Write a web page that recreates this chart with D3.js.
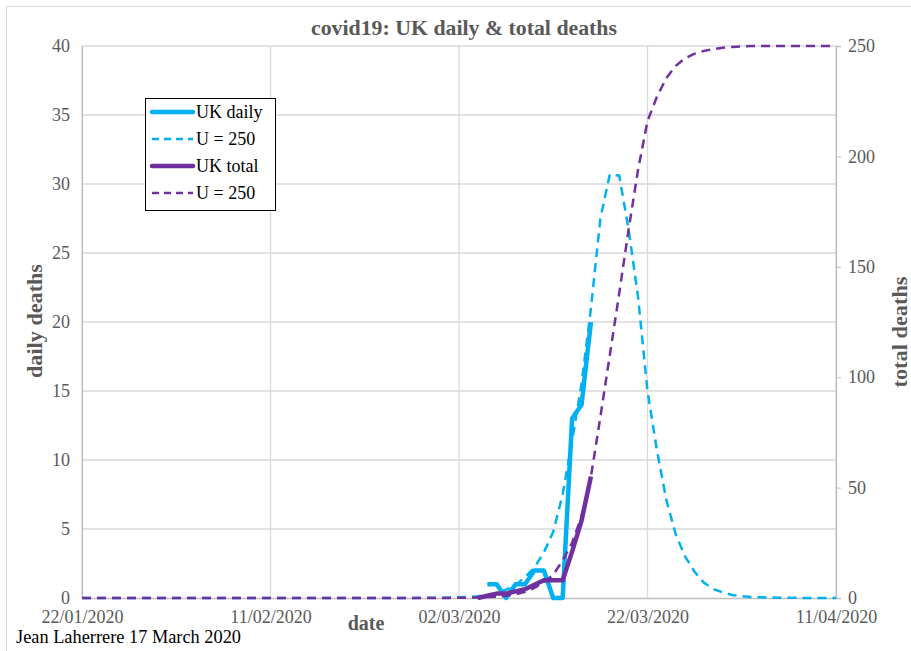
<!DOCTYPE html>
<html>
<head>
<meta charset="utf-8">
<script src="https://cdn.jsdelivr.net/npm/d3@7"></script>
<style>
  body { margin: 0; background: #fff; }
  text { font-family: "Liberation Serif", "Times New Roman", serif; }
</style>
</head>
<body>
<div id="chart"></div>
<script>
const width = 911
const height = 651
const margin = { top: 46, right: 75, bottom: 53, left: 82 }

// x tick labels (every 20 days)
const tickDates = ["22/01/2020", "11/02/2020", "02/03/2020", "22/03/2020", "11/04/2020"]
const leftTicks = [0, 5, 10, 15, 20, 25, 30, 35, 40]
const rightTicks = [0, 50, 100, 150, 200, 250]

// observed UK daily deaths, from 05/03/2020
const dailyStart = "05/03/2020"
const ukDaily = [1, 1, 0, 1, 1, 2, 2, 0, 0, 13, 14, 20]

// observed UK total deaths, from 04/03/2020
const totalStart = "04/03/2020"
const ukTotal = [0, 1, 2, 2, 3, 4, 6, 8, 8, 8, 21, 35, 55]

// model U = 250, one value per day from 22/01/2020
const modelStart = "22/01/2020"
const dailyModel = [
  0, 0, 0, 0, 0, 0, 0, 0, 0, 0,
  0, 0, 0, 0, 0, 0, 0, 0, 0, 0,
  0, 0, 0, 0, 0, 0, 0, 0, 0, 0,
  0, 0, 0, 0, 0, 0, 0.01, 0.01, 0.02, 0.03,
  0.05, 0.08, 0.13, 0.21, 0.35, 0.6, 0.95, 1.5, 2.2, 3.3,
  4.8, 7.5, 11.4, 15.5, 21, 27.5, 30.7, 30.6, 26.7, 21.8,
  15, 10.7, 7.1, 4.6, 3.0, 1.9, 1.1, 0.65, 0.4, 0.22,
  0.13, 0.08, 0.05, 0.03, 0.02, 0.01, 0.01, 0, 0, 0, 0
]
const totalModel = [
  0, 0, 0, 0, 0, 0, 0, 0, 0, 0,
  0, 0, 0, 0, 0, 0, 0, 0, 0, 0,
  0, 0, 0, 0, 0, 0, 0, 0, 0, 0,
  0, 0, 0, 0, 0, 0, 0, 0, 0.03, 0.05,
  0.1, 0.15, 0.25, 0.4, 0.6, 1.0, 1.6, 2.8, 4.6, 7.2,
  10.5, 17, 25, 37, 55, 82, 110, 138, 167, 194,
  216, 227, 235.5, 241, 244.5, 246.5, 247.8, 248.6, 249.2, 249.6,
  249.8, 250, 250, 250, 250, 250, 250, 250, 250, 250, 250
]

const parse = d3.timeParse("%d/%m/%Y")
const fmt = d3.timeFormat("%d/%m/%Y")
const series = (start, values) => values.map((v, i) => ({ date: d3.timeDay.offset(parse(start), i), value: v }))

const blue = "#00b0f0"
const purple = "#7030a0"
const grey = "#595959"

const svg = d3.select("div#chart").append("svg").attr("width", width).attr("height", height)

// outer chart frame
svg.append("rect").attr("x", 6.5).attr("y", 6.5).attr("width", 1000).attr("height", 1000)
    .attr("fill", "none").attr("stroke", "#d9d9d9")

const x = d3.scaleTime()
    .domain([parse(tickDates[0]), parse(tickDates[tickDates.length - 1])])
    .range([margin.left, width - margin.right])
const y = d3.scaleLinear().domain([0, 40]).range([height - margin.bottom, margin.top])
const y2 = d3.scaleLinear().domain([0, 250]).range([height - margin.bottom, margin.top])

// grid
const grid = svg.append("g").attr("class", "grid")
grid.selectAll("line.h").data(leftTicks.slice(1)).join("line").attr("class", "h")
    .attr("x1", margin.left).attr("x2", width - margin.right)
    .attr("y1", d => y(d)).attr("y2", d => y(d))
    .attr("stroke", "#d9d9d9").attr("stroke-width", 1.3)
grid.selectAll("line.v").data(tickDates).join("line").attr("class", "v")
    .attr("x1", d => x(parse(d))).attr("x2", d => x(parse(d)))
    .attr("y1", margin.top).attr("y2", height - margin.bottom)
    .attr("stroke", "#d9d9d9").attr("stroke-width", 1.3)

// axes
const xAxis = d3.axisBottom(x).tickValues(tickDates.map(parse)).tickFormat(fmt).tickSize(0).tickPadding(9)
const yAxis = d3.axisLeft(y).tickValues(leftTicks).tickSize(0).tickPadding(12)
const yAxis2 = d3.axisRight(y2).tickValues(rightTicks).tickSize(5).tickPadding(7)

const xAxisGroup = svg.append("g").attr("transform", `translate(0, ${height - margin.bottom})`).call(xAxis)
const yAxisGroup = svg.append("g").attr("transform", `translate(${margin.left}, 0)`).call(yAxis)
const yAxisGroup2 = svg.append("g").attr("transform", `translate(${width - margin.right}, 0)`).call(yAxis2)

;[xAxisGroup, yAxisGroup, yAxisGroup2].forEach(g => {
    g.select(".domain").attr("stroke", "#bfbfbf").attr("stroke-width", 1.3)
    g.selectAll(".tick line").attr("stroke", "#bfbfbf")
    g.selectAll("text").attr("fill", grey).attr("font-size", 18)
        .attr("font-family", "Liberation Serif, serif")
})
xAxisGroup.selectAll("text").attr("dy", "0.9em")

// lines
const lineL = d3.line().x(d => x(d.date)).y(d => y(d.value))
const lineR = d3.line().x(d => x(d.date)).y(d => y2(d.value))
const elementGroup = svg.append("g").attr("class", "elementGroup")

elementGroup.append("path").datum(series(dailyStart, ukDaily)).attr("d", lineL)
    .attr("fill", "none").attr("stroke", blue).attr("stroke-width", 4.5).attr("stroke-linejoin", "round")
elementGroup.append("path").datum(series(modelStart, dailyModel)).attr("d", lineL)
    .attr("fill", "none").attr("stroke", blue).attr("stroke-width", 2.5).attr("stroke-dasharray", "9,6")
elementGroup.append("path").datum(series(totalStart, ukTotal)).attr("d", lineR)
    .attr("fill", "none").attr("stroke", purple).attr("stroke-width", 4.5).attr("stroke-linejoin", "round")
elementGroup.append("path").datum(series(modelStart, totalModel)).attr("d", lineR)
    .attr("fill", "none").attr("stroke", purple).attr("stroke-width", 2.5).attr("stroke-dasharray", "9,6")

// titles
svg.append("text").attr("x", 464).attr("y", 35).attr("text-anchor", "middle")
    .attr("font-size", 21).attr("font-weight", "bold").attr("fill", grey)
    .attr("textLength", 306).attr("lengthAdjust", "spacingAndGlyphs")
    .text("covid19: UK daily & total deaths")
svg.append("text").attr("transform", "translate(42, 321) rotate(-90)").attr("text-anchor", "middle")
    .attr("font-size", 21).attr("font-weight", "bold").attr("fill", grey)
    .attr("textLength", 114).attr("lengthAdjust", "spacingAndGlyphs").text("daily deaths")
svg.append("text").attr("transform", "translate(907, 332) rotate(-90)").attr("text-anchor", "middle")
    .attr("font-size", 21).attr("font-weight", "bold").attr("fill", grey)
    .attr("textLength", 111).attr("lengthAdjust", "spacingAndGlyphs").text("total deaths")
svg.append("text").attr("x", 366).attr("y", 630).attr("text-anchor", "middle")
    .attr("font-size", 20).attr("font-weight", "bold").attr("fill", grey).text("date")
svg.append("text").attr("x", 16).attr("y", 643)
    .attr("font-size", 19).attr("fill", "#000")
    .attr("textLength", 225).attr("lengthAdjust", "spacingAndGlyphs")
    .text("Jean Laherrere 17 March 2020")

// legend
const legendItems = [
    { label: "UK daily", color: blue, dash: null, w: 4.5 },
    { label: "U = 250", color: blue, dash: "7,5", w: 2.5 },
    { label: "UK total", color: purple, dash: null, w: 4.5 },
    { label: "U = 250", color: purple, dash: "7,5", w: 2.5 },
]
const legend = svg.append("g").attr("transform", "translate(145, 98)")
legend.append("rect").attr("x", 0.5).attr("y", 0.5).attr("width", 130).attr("height", 112)
    .attr("fill", "#fff").attr("stroke", "#000")
const items = legend.selectAll("g").data(legendItems).join("g")
    .attr("transform", (d, i) => `translate(0, ${14 + i * 27})`)
items.append("line").attr("x1", 7).attr("x2", 48).attr("y1", 0).attr("y2", 0)
    .attr("stroke", d => d.color).attr("stroke-width", d => d.w)
    .attr("stroke-dasharray", d => d.dash).attr("stroke-linecap", d => d.dash ? "butt" : "round")
items.append("text").attr("x", 51).attr("y", 6).attr("font-size", 18).attr("fill", "#000").text(d => d.label)
</script>
</body>
</html>
